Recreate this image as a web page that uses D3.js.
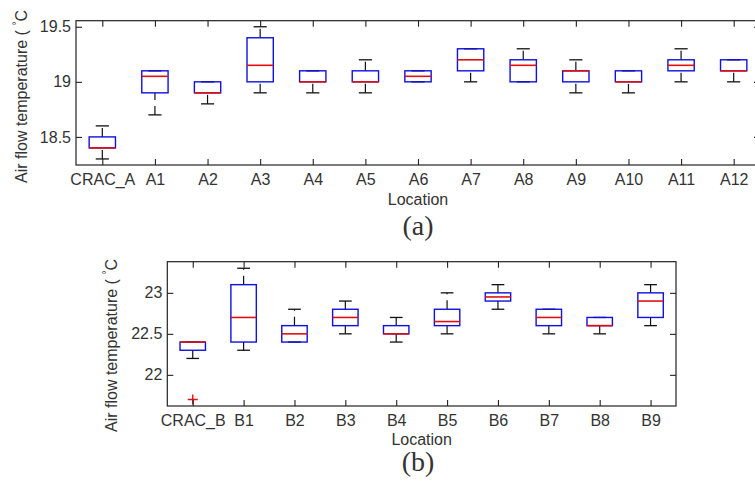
<!DOCTYPE html>
<html>
<head>
<meta charset="utf-8">
<script src="https://cdn.jsdelivr.net/npm/d3@7"></script>
<style>
  body { margin: 0; background: #fff; }
  svg { display: block; }
  text { font-family: "Liberation Sans", Arial, sans-serif; fill: #333; }
  .caption { font-family: "Liberation Serif", "Times New Roman", serif; }
</style>
</head>
<body>
<svg id="fig" width="755" height="482"></svg>
<script>
// Panel (a): CRAC_A supply air and rack inlets A1..A12 (°C)
const locationsA = ["CRAC_A", "A1", "A2", "A3", "A4", "A5", "A6", "A7", "A8", "A9", "A10", "A11", "A12"];
const lowA    = [18.3, 18.7, 18.8, 18.9, 18.9, 18.9, 19.0, 19.0, 19.0, 18.9, 18.9, 19.0, 19.0];
const q1A     = [18.4, 18.9, 18.9, 19.0, 19.0, 19.0, 19.0, 19.1, 19.0, 19.0, 19.0, 19.1, 19.1];
const medianA = [18.4, 19.05, 18.9, 19.15, 19.0, 19.0, 19.05, 19.2, 19.15, 19.1, 19.0, 19.15, 19.1];
const q3A     = [18.5, 19.1, 19.0, 19.4, 19.1, 19.1, 19.1, 19.3, 19.2, 19.1, 19.1, 19.2, 19.2];
const highA   = [18.6, 19.1, 19.0, 19.5, 19.1, 19.2, 19.1, 19.3, 19.3, 19.2, 19.1, 19.3, 19.2];
const outliersA = [];
const yTicksA = [18.5, 19, 19.5];
const yLimitsA = [18.245, 19.555];

// Panel (b): CRAC_B supply air and rack inlets B1..B9 (°C)
const locationsB = ["CRAC_B", "B1", "B2", "B3", "B4", "B5", "B6", "B7", "B8", "B9"];
const lowB    = [22.2, 22.3, 22.4, 22.5, 22.4, 22.5, 22.8, 22.5, 22.5, 22.6];
const q1B     = [22.3, 22.4, 22.4, 22.6, 22.5, 22.6, 22.9, 22.6, 22.6, 22.7];
const medianB = [22.4, 22.7, 22.5, 22.7, 22.5, 22.65, 22.95, 22.7, 22.6, 22.9];
const q3B     = [22.4, 23.1, 22.6, 22.8, 22.6, 22.8, 23.0, 22.8, 22.7, 23.0];
const highB   = [22.4, 23.3, 22.8, 22.9, 22.7, 23.0, 23.1, 22.8, 22.7, 23.1];
const outliersB = [["CRAC_B", 21.7]];
const yTicksB = [22, 22.5, 23];
const yLimitsB = [21.62, 23.38];

const svg = d3.select("#fig");
const FONT = "Liberation Sans, Arial, sans-serif";
const fmt = d3.format("~g");

function boxPanel(o) {
  const { cats, low, q1, med, q3, high, outliers, limits, ticks, frame } = o;

  const x = d3.scalePoint().domain(cats).range([frame.left, frame.right]).padding(0.5);
  const y = d3.scaleLinear().domain(limits).range([frame.bottom, frame.top]);
  const step = x.step();
  const boxW = step * 0.5;
  const capW = step * 0.25;

  const g = svg.append("g");
  const plot = g.append("g");

  const rows = cats.map((c, i) => ({ c, low: low[i], q1: q1[i], med: med[i], q3: q3[i], high: high[i] }));

  // whiskers (dashed), drawn from the lower value upwards
  plot.selectAll(".wlo").data(rows).join("line")
    .attr("x1", d => x(d.c)).attr("x2", d => x(d.c))
    .attr("y1", d => y(d.low)).attr("y2", d => y(d.q1))
    .attr("stroke", "#111").attr("stroke-width", 1.2).attr("stroke-dasharray", "9 6");
  plot.selectAll(".whi").data(rows).join("line")
    .attr("x1", d => x(d.c)).attr("x2", d => x(d.c))
    .attr("y1", d => y(d.q3)).attr("y2", d => y(d.high))
    .attr("stroke", "#111").attr("stroke-width", 1.2).attr("stroke-dasharray", "9 6");

  // whisker caps
  ["low", "high"].forEach(k => {
    plot.selectAll(".cap-" + k).data(rows).join("line")
      .attr("x1", d => x(d.c) - capW / 2).attr("x2", d => x(d.c) + capW / 2)
      .attr("y1", d => y(d[k])).attr("y2", d => y(d[k]))
      .attr("stroke", "#111").attr("stroke-width", 1.3);
  });

  // interquartile boxes
  plot.selectAll(".box").data(rows).join("rect")
    .attr("x", d => x(d.c) - boxW / 2).attr("width", boxW)
    .attr("y", d => y(d.q3)).attr("height", d => Math.max(0, y(d.q1) - y(d.q3)))
    .attr("fill", "none").attr("stroke", "#1010e0").attr("stroke-width", 1.4);

  // medians
  plot.selectAll(".med").data(rows).join("line")
    .attr("x1", d => x(d.c) - boxW / 2).attr("x2", d => x(d.c) + boxW / 2)
    .attr("y1", d => y(d.med)).attr("y2", d => y(d.med))
    .attr("stroke", "#e01010").attr("stroke-width", 1.6);

  // outliers as red plus marks
  plot.selectAll(".out").data(outliers).join("path")
    .attr("transform", d => `translate(${x(d[0])},${y(d[1])})`)
    .attr("d", "M-5,0H5M0,-5V5")
    .attr("stroke", "#e01010").attr("stroke-width", 1.4).attr("fill", "none");

  // axes with inward ticks on all four sides
  const ax = sel => sel.attr("font-size", 16).attr("font-family", FONT).attr("color", "#222")
    .call(s => s.select(".domain").remove());

  g.append("g").attr("transform", `translate(0,${frame.bottom})`)
    .call(d3.axisBottom(x).tickSize(-6).tickPadding(9)).call(ax);
  g.append("g").attr("transform", `translate(0,${frame.top})`)
    .call(d3.axisTop(x).tickSize(-6).tickFormat(() => "")).call(ax);
  g.append("g").attr("transform", `translate(${frame.left},0)`)
    .call(d3.axisLeft(y).tickValues(ticks).tickFormat(fmt).tickSize(-6).tickPadding(5)).call(ax);
  g.append("g").attr("transform", `translate(${frame.right},0)`)
    .call(d3.axisRight(y).tickValues(ticks).tickSize(-6).tickFormat(() => "")).call(ax);

  g.selectAll(".tick line").attr("stroke-width", 1.1);

  // frame
  g.append("rect")
    .attr("x", frame.left).attr("y", frame.top)
    .attr("width", frame.right - frame.left).attr("height", frame.bottom - frame.top)
    .attr("fill", "none").attr("stroke", "#222").attr("stroke-width", 1.2);

  // y-axis title
  const yl = g.append("text")
    .attr("transform", `translate(${o.yTitleX},${o.yTitleY}) rotate(-90)`)
    .attr("font-size", 16);
  yl.append("tspan").text("Air flow temperature ( ");
  yl.append("tspan").attr("dy", -7).attr("font-size", 10).text("°");
  yl.append("tspan").attr("dy", 7).text("C");

  // x-axis title
  g.append("text")
    .attr("x", (frame.left + frame.right) / 2).attr("y", o.xTitleY)
    .attr("text-anchor", "middle").attr("font-size", 16)
    .text("Location");

  // panel caption
  g.append("text").attr("class", "caption")
    .attr("x", o.captionX).attr("y", o.captionY)
    .attr("text-anchor", "middle").attr("font-size", 28)
    .text(o.caption);
}

boxPanel({
  cats: locationsA, low: lowA, q1: q1A, med: medianA, q3: q3A, high: highA,
  outliers: outliersA, limits: yLimitsA, ticks: yTicksA,
  frame: { left: 76, right: 760, top: 20.7, bottom: 165 },
  yTitleX: 27, yTitleY: 183, xTitleY: 205,
  captionX: 418, captionY: 235, caption: "(a)"
});

boxPanel({
  cats: locationsB, low: lowB, q1: q1B, med: medianB, q3: q3B, high: highB,
  outliers: outliersB, limits: yLimitsB, ticks: yTicksB,
  frame: { left: 167.3, right: 676, top: 261.7, bottom: 406 },
  yTitleX: 116.5, yTitleY: 432, xTitleY: 445,
  captionX: 418, captionY: 471, caption: "(b)"
});
</script>
</body>
</html>
